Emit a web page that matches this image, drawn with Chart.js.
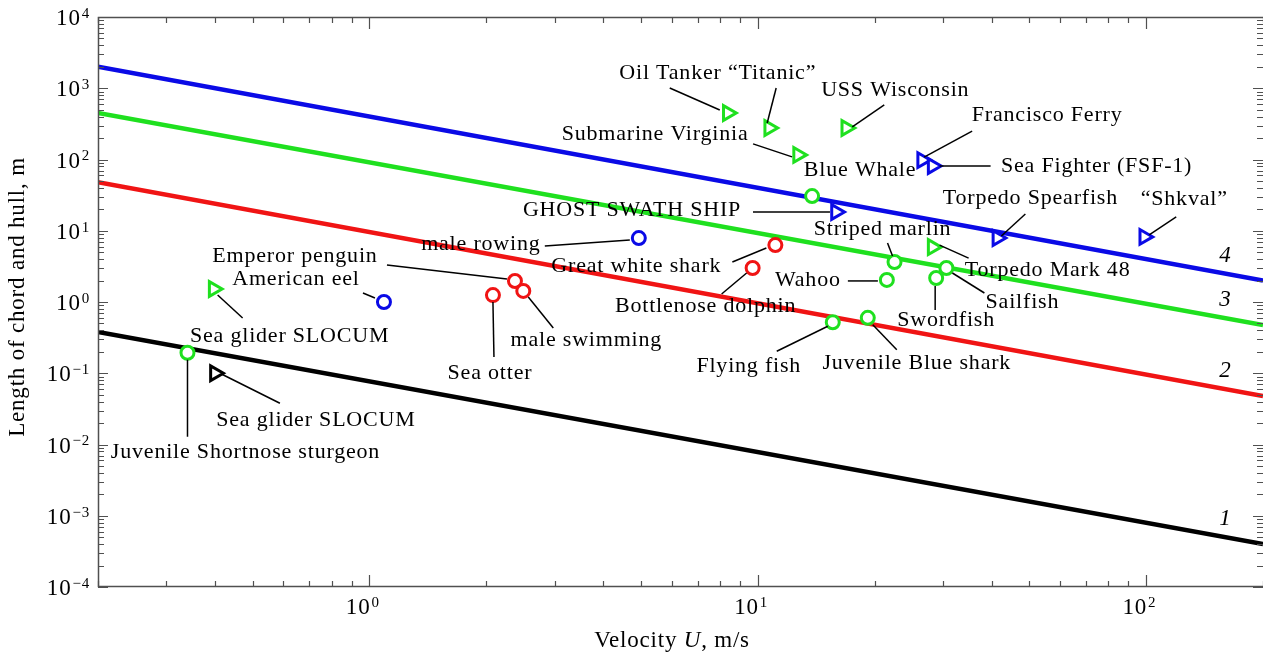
<!DOCTYPE html>
<html>
<head>
<meta charset="utf-8">
<script src="https://cdn.jsdelivr.net/npm/chart.js@4.4.1/dist/chart.umd.min.js"></script>
<style>
    html, body { margin: 0; padding: 0; background: #fff; overflow: hidden; }
    #chart { display: block; }
</style>
</head>
<body>
<canvas id="chart" width="1263" height="653"></canvas>
<script>
// Theoretical lines 1-4, given by their end points (U, m/s -> L, m)
const curveU = [0.2, 200];
const curve1L = [0.38, 0.0004];
const curve2L = [48, 0.048];
const curve3L = [450, 0.475];
const curve4L = [2000, 2];
const curveNames = ['1', '2', '3', '4'];

// Swimmers and vehicles
const objNames = [
    'Oil Tanker', 'Titanic', 'USS Wisconsin', 'Submarine Virginia', 'Francisco Ferry',
    'Sea Fighter (FSF-1)', 'Blue Whale', 'GHOST SWATH SHIP', 'Torpedo Spearfish', '“Shkval”',
    'Torpedo Mark 48', 'Striped marlin', 'Wahoo', 'Sailfish', 'Swordfish',
    'Juvenile Blue shark', 'Flying fish', 'Great white shark', 'Bottlenose dolphin', 'male rowing',
    'Emperor penguin', 'male swimming', 'Sea otter', 'American eel', 'Sea glider SLOCUM',
    'Juvenile Shortnose sturgeon', 'Sea glider SLOCUM'
];
const objU = [
    8.37, 10.7, 16.9, 12.7, 26.5,
    28.2, 13.8, 15.9, 41.4, 98.9,
    28.2, 22.5, 21.5, 30.6, 28.8,
    19.2, 15.6, 11.1, 9.7, 4.94,
    2.37, 2.49, 2.08, 1.09, 0.397,
    0.34, 0.40
];
const objL = [
    450, 277, 277, 116, 98,
    81, 30.7, 18.3, 7.9, 8.2,
    5.9, 3.64, 2.04, 3.0, 2.17,
    0.60, 0.52, 6.3, 3.0, 7.9,
    1.97, 1.43, 1.25, 1.0, 1.52,
    0.194, 0.10
];
// gC green circle, rC red circle, bC blue circle, gT green triangle, bT blue triangle, kT black triangle
const objKind = [
    'gT', 'gT', 'gT', 'gT', 'bT',
    'bT', 'gC', 'bT', 'bT', 'bT',
    'gT', 'gC', 'gC', 'gC', 'gC',
    'gC', 'gC', 'rC', 'rC', 'bC',
    'rC', 'rC', 'rC', 'bC', 'gT',
    'gC', 'kT'
];

const SERIF = '"Liberation Serif", "Times New Roman", serif';
const FONT = '22px ' + SERIF;
const GREEN = '#1fe01f', RED = '#f01414', BLUE = '#0a0ae6', BLACK = '#000';

const kindStyle = {
    kT: { color: BLACK, shape: 'triangle' },
    gT: { color: GREEN, shape: 'triangle' },
    bT: { color: BLUE, shape: 'triangle' },
    gC: { color: GREEN, shape: 'circle' },
    rC: { color: RED, shape: 'circle' },
    bC: { color: BLUE, shape: 'circle' }
};

// label placement: text centre offset from the marker and leader line, in px
const notes = [
    { t: 'Oil Tanker “Titanic”', dx: -10, dy: -40, ln: [-58, -25, -8, -3] },
    { t: '', ln: [7, -40, -2, -5] },
    { t: 'USS Wisconsin', dx: 49, dy: -38, ln: [38, -23, 6, -1] },
    { t: 'Submarine Virginia', dx: -143, dy: -21, ln: [-45, -11, -6, 2] },
    { t: 'Francisco Ferry', dx: 125, dy: -45, ln: [50, -29, 2, -3] },
    { t: 'Sea Fighter (FSF-1)', dx: 164, dy: 0, ln: [7, 0, 58, 0] },
    { t: 'Blue Whale', dx: 48, dy: -26 },
    { t: 'GHOST SWATH SHIP', dx: -204, dy: -2, ln: [-83, 0, -6, 0] },
    { t: 'Torpedo Spearfish', dx: 33, dy: -40, ln: [28, -24, 4, -2] },
    { t: '“Shkval”', dx: 40, dy: -38, ln: [32, -20, 5, -2] },
    { t: 'Torpedo Mark 48', dx: 115, dy: 23, ln: [36, 11, 7, -2] },
    { t: 'Striped marlin', dx: -12, dy: -33, ln: [-7, -19, -2, -6] },
    { t: 'Wahoo', dx: -79, dy: 0, ln: [-39, 1, -9, 1] },
    { t: 'Sailfish', dx: 76, dy: 34, ln: [38, 25, 6, 5] },
    { t: 'Swordfish', dx: 10, dy: 42, ln: [-1, 8, -1, 32] },
    { t: 'Juvenile Blue shark', dx: 49, dy: 45, ln: [5, 7, 29, 32] },
    { t: 'Flying fish', dx: -84, dy: 44, ln: [-56, 29, -5, 4] },
    { t: 'Great white shark', dx: -139, dy: 21, ln: [-43, 17, -9, 3] },
    { t: 'Bottlenose dolphin', dx: -47, dy: 38, ln: [-31, 26, -6, 5] },
    { t: 'male rowing', dx: -158, dy: 6, ln: [-94, 8, -9, 2] },
    { t: 'Emperor penguin', dx: -220, dy: -25, ln: [-128, -16, -8, -2] },
    { t: 'male swimming', dx: 63, dy: 49, ln: [5, 6, 30, 37] },
    { t: 'Sea otter', dx: -3, dy: 78, ln: [0, 7, 1, 62] },
    { t: 'American eel', dx: -88, dy: -23, ln: [-21, -9, -9, -4] },
    { t: 'Sea glider SLOCUM', dx: 76, dy: 47, ln: [4, 6, 29, 29] },
    { t: 'Juvenile Shortnose sturgeon', dx: 58, dy: 99, ln: [0, 7, 0, 84] },
    { t: 'Sea glider SLOCUM', dx: 101, dy: 47, ln: [65, 30, 7, 1] }
];

const curves = [curve1L, curve2L, curve3L, curve4L];
const curveColors = [BLACK, RED, GREEN, BLUE];

const datasets = curves.map((L, i) => ({
    label: 'curve ' + curveNames[i],
    data: curveU.map((u, j) => ({ x: u, y: L[j] })),
    showLine: true,
    borderColor: curveColors[i],
    borderWidth: 4.5,
    pointRadius: 0,
    order: 2
}));

Object.keys(kindStyle).forEach(k => {
    const st = kindStyle[k];
    const pts = [];
    objU.forEach((u, i) => { if (objKind[i] === k) pts.push({ x: u, y: objL[i] }); });
    datasets.push({
        label: k,
        data: pts,
        showLine: false,
        pointStyle: st.shape,
        rotation: st.shape === 'triangle' ? 90 : 0,
        pointRadius: st.shape === 'triangle' ? 8.5 : 6.5,
        borderWidth: 3,
        borderColor: st.color,
        backgroundColor: '#fff',
        order: 1
    });
});

function curveAt(L, u) {
    const a = Math.log10(curveU[0]), b = Math.log10(curveU[1]);
    const t = (Math.log10(u) - a) / (b - a);
    return Math.pow(10, Math.log10(L[0]) + t * (Math.log10(L[1]) - Math.log10(L[0])));
}

function supText(e) {
    return e < 0 ? '\u2212' + (-e) : String(e);
}

const decor = {
    id: 'decor',
    afterDatasetsDraw(chart) {
        const ctx = chart.ctx, xs = chart.scales.x, ys = chart.scales.y;
        ctx.save();
        ctx.strokeStyle = '#000';
        ctx.lineWidth = 1.5;
        ctx.fillStyle = '#000';
        ctx.font = FONT;
        ctx.letterSpacing = '0.8px';
        ctx.textAlign = 'center';
        ctx.textBaseline = 'middle';
        notes.forEach((n, i) => {
            const px = xs.getPixelForValue(objU[i]), py = ys.getPixelForValue(objL[i]);
            if (n.ln) {
                ctx.beginPath();
                ctx.moveTo(px + n.ln[0], py + n.ln[1]);
                ctx.lineTo(px + n.ln[2], py + n.ln[3]);
                ctx.stroke();
            }
            if (n.t) ctx.fillText(n.t, px + n.dx, py + n.dy);
        });
        // curve numbers
        ctx.font = 'italic 23px ' + SERIF;
        curves.forEach((L, i) => {
            const u = 160;
            ctx.fillText(curveNames[i], xs.getPixelForValue(u), ys.getPixelForValue(curveAt(L, u)) - 18);
        });
        ctx.restore();
    },
    afterDraw(chart) {
        const ctx = chart.ctx, xs = chart.scales.x, ys = chart.scales.y, a = chart.chartArea;
        ctx.save();
        // frame: left, top and bottom (right edge falls on the canvas border)
        ctx.strokeStyle = '#505050';
        ctx.lineWidth = 1.5;
        ctx.beginPath();
        ctx.moveTo(a.right, a.top + 0.5);
        ctx.lineTo(a.left + 0.5, a.top + 0.5);
        ctx.lineTo(a.left + 0.5, a.bottom - 0.5);
        ctx.lineTo(a.right, a.bottom - 0.5);
        ctx.stroke();

        ctx.lineWidth = 1.2;
        ctx.beginPath();
        for (let d = -4; d <= 4; d++) {
            for (let k = 1; k <= 9; k++) {
                const v = k * Math.pow(10, d);
                if (v > 1.0001e4) continue;
                const y = Math.round(ys.getPixelForValue(v)) + 0.5;
                const len = k === 1 ? 10 : 6;
                ctx.moveTo(a.left, y); ctx.lineTo(a.left + len, y);
                ctx.moveTo(a.right, y); ctx.lineTo(a.right - len, y);
            }
        }
        for (let d = -1; d <= 2; d++) {
            for (let k = 1; k <= 9; k++) {
                const v = k * Math.pow(10, d);
                if (v < 0.2 || v > 200) continue;
                const x = Math.round(xs.getPixelForValue(v)) + 0.5;
                const len = k === 1 ? 12 : 6;
                ctx.moveTo(x, a.bottom); ctx.lineTo(x, a.bottom - len);
                ctx.moveTo(x, a.top); ctx.lineTo(x, a.top + len);
            }
        }
        ctx.stroke();

        // tick labels 10^n
        ctx.fillStyle = '#000';
        ctx.textBaseline = 'middle';
        ctx.letterSpacing = '0.8px';
        for (let e = -4; e <= 4; e++) {
            const y = ys.getPixelForValue(Math.pow(10, e));
            const s = supText(e);
            ctx.font = '15px ' + SERIF;
            const sw = ctx.measureText(s).width;
            ctx.textAlign = 'left';
            ctx.fillText(s, 90 - sw, y - 3);
            ctx.font = '23px ' + SERIF;
            ctx.textAlign = 'right';
            ctx.fillText('10', 89 - sw, y + 2);
        }
        for (let e = 0; e <= 2; e++) {
            const x = xs.getPixelForValue(Math.pow(10, e));
            ctx.font = '23px ' + SERIF;
            ctx.textAlign = 'right';
            ctx.fillText('10', x + 1, 608);
            ctx.font = '15px ' + SERIF;
            ctx.textAlign = 'left';
            ctx.fillText(supText(e), x + 2, 603);
        }

        // axis titles
        const TF = '23px ' + SERIF;
        ctx.font = TF;
        ctx.textAlign = 'left';
        const p1 = 'Velocity ', p2 = 'U', p3 = ', m/s';
        const w1 = ctx.measureText(p1).width, w3 = ctx.measureText(p3).width;
        ctx.font = 'italic ' + TF;
        const w2 = ctx.measureText(p2).width;
        let x0 = 672 - (w1 + w2 + w3) / 2;
        ctx.font = TF;
        ctx.fillText(p1, x0, 641);
        ctx.font = 'italic ' + TF;
        ctx.fillText(p2, x0 + w1, 641);
        ctx.font = TF;
        ctx.fillText(p3, x0 + w1 + w2, 641);

        ctx.translate(18, 297);
        ctx.rotate(-Math.PI / 2);
        ctx.textAlign = 'center';
        ctx.fillText('Length of chord and hull, m', 0, 0);
        ctx.restore();
    }
};

new Chart(document.getElementById('chart'), {
    type: 'scatter',
    data: { datasets: datasets },
    options: {
        responsive: false,
        devicePixelRatio: 1,
        animation: false,
        layout: { autoPadding: false, padding: { left: 98, top: 17, right: 0, bottom: 66 } },
        plugins: { legend: { display: false }, tooltip: { enabled: false } },
        scales: {
            x: { type: 'logarithmic', min: 0.2, max: 200, display: false },
            y: { type: 'logarithmic', min: 1e-4, max: 1e4, display: false }
        }
    },
    plugins: [decor]
});
</script>
</body>
</html>
